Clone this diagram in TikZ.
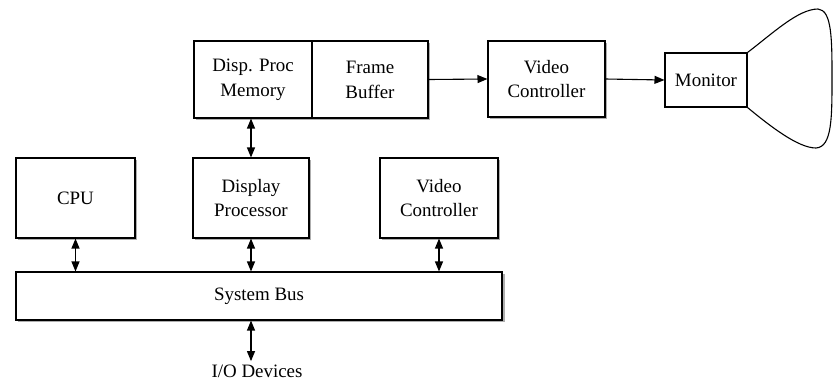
\documentclass[tikz,border=0pt]{standalone}
\usepackage{fontspec}
\setmainfont{Liberation Serif}
\usetikzlibrary{arrows.meta,shadows}
\tikzset{
	blk/.style={draw, line width=1.1pt, fill=white, align=center, inner sep=0pt,
		drop shadow={shadow xshift=2.5pt, shadow yshift=-2.5pt, fill=black!45, opacity=0.7}},
	txt/.style={align=center, inner sep=0pt},
	biarrow/.style={line width=1.1pt, {Triangle[length=10pt,width=8pt]}-{Triangle[length=10pt,width=8pt]}},
	onearrow/.style={line width=1.1pt, -{Triangle[length=10pt,width=8pt]}}
}

\begin{document}
\begin{tikzpicture}[x=1bp, y=-1bp, font=\fontsize{19}{25}\selectfont]
		%%%%% START %%%%%
		\useasboundingbox (0,0) rectangle (834,383);
		
		% top row
		\node[blk, minimum width=234bp, minimum height=77bp] (mem) at (311, 79.5) {};
		\node[txt] (dpm) at (253, 79.5) {Disp. Proc\\Memory};
		\node[txt] (fb) at (370, 79.5) {Frame\\Buffer};
		\draw[line width=1.1pt] ([xshift=1bp]mem.north) -- ([xshift=1bp]mem.south);
		\node[blk, minimum width=117bp, minimum height=76bp] (vc) at (546.5, 79) {Video\\Controller};
		\node[draw, line width=1.1pt, minimum width=82bp, minimum height=54bp] (mon) at (706, 80) {Monitor};
		
		% screen flare
		\draw[line width=1.1pt] (mon.north east) .. controls (772, 34) and (798, 9) .. (818, 9)
			.. controls (832, 10) and (832, 40) .. (832, 78)
			.. controls (832, 118) and (832, 147) .. (816, 148)
			.. controls (798, 148) and (770, 126) .. (mon.south east);
		
		% lower row
		\node[blk, minimum width=119bp, minimum height=80bp] (cpu) at (75.5, 198) {CPU};
		\node[blk, minimum width=116bp, minimum height=80bp] (dp) at (251, 198) {Display\\Processor};
		\node[blk, minimum width=118bp, minimum height=80bp] (vc2) at (439, 198) {Video\\Controller};
		\node[blk, minimum width=486bp, minimum height=48bp] (bus) at (259, 296) {System Bus};
		\node (io) at (257, 371) {I/O Devices};
		
		% connectors
		\draw[onearrow] (mem.east) -- (vc.west);
		\draw[onearrow] (vc.east) -- (mon.west);
		\draw[biarrow] (dp.north) -- (dp.north |- mem.south);
		\draw[biarrow] (cpu.south) -- (cpu.south |- bus.north);
		\draw[biarrow] (dp.south) -- (dp.south |- bus.north);
		\draw[biarrow] (vc2.south) -- (vc2.south |- bus.north);
		\draw[biarrow] (dp.south |- bus.south) -- (dp.south |- io.north);
		
		%%%%% END %%%%%
	\end{tikzpicture}
\end{document}
